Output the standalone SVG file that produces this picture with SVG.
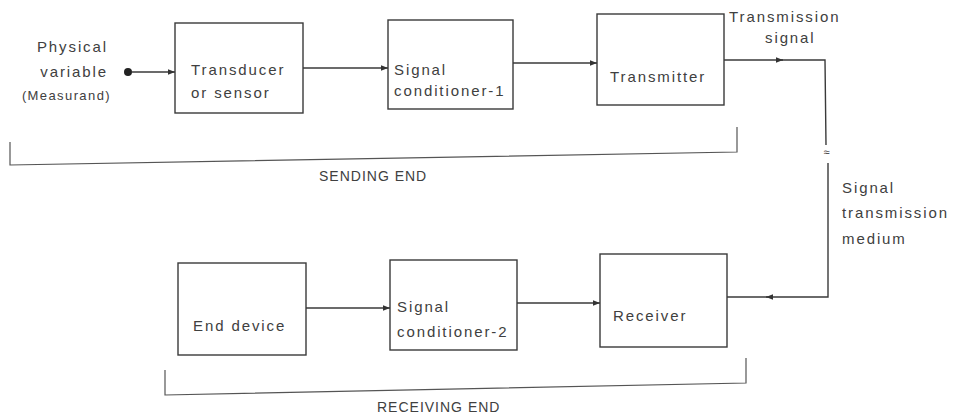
<svg xmlns="http://www.w3.org/2000/svg" width="958" height="416" viewBox="0 0 958 416">
<defs>
<style>
.box{fill:#fff;stroke:#3a3a3a;stroke-width:1.4}
.ln{fill:none;stroke:#3a3a3a;stroke-width:1.4}
.br{fill:none;stroke:#555;stroke-width:1.2}
text{font-family:"Liberation Sans",Arial,sans-serif;fill:#404040;font-size:15px;letter-spacing:1.9px}
.sm{font-size:13px;letter-spacing:1.4px}
.cap{font-size:14px;letter-spacing:1px}
</style>
<marker id="ah" viewBox="0 0 10 10" refX="10" refY="5" markerWidth="7" markerHeight="7" orient="auto" markerUnits="userSpaceOnUse">
<path d="M0,1 L10,5 L0,9 Z" fill="#333"/>
</marker>
</defs>
<rect width="958" height="416" fill="#fff"/>

<g id="input">
<circle cx="128" cy="72" r="4" fill="#222"/>
<text x="108" y="52" text-anchor="end">Physical</text>
<text x="108" y="77" text-anchor="end">variable</text>
<text class="sm" x="111" y="100" text-anchor="end">(Measurand)</text>
</g>

<g id="transducer">
<rect class="box" x="175" y="23" width="128" height="90"/>
<text x="191" y="75">Transducer</text>
<text x="191" y="98">or sensor</text>
</g>

<g id="conditioner1">
<rect class="box" x="388" y="20" width="125" height="89"/>
<text x="394" y="75">Signal</text>
<text x="394" y="96">conditioner-1</text>
</g>

<g id="transmitter">
<rect class="box" x="597" y="14" width="127" height="91"/>
<text x="610" y="82">Transmitter</text>
</g>

<g id="end-device">
<rect class="box" x="178" y="263" width="128" height="92"/>
<text x="193" y="331">End device</text>
</g>

<g id="conditioner2">
<rect class="box" x="390" y="260" width="127" height="90"/>
<text x="397" y="312">Signal</text>
<text x="397" y="337">conditioner-2</text>
</g>

<g id="receiver">
<rect class="box" x="600" y="254" width="127" height="93"/>
<text x="613" y="321">Receiver</text>
</g>

<g id="labels">
<text x="729" y="22">Transmission</text>
<text x="765" y="43">signal</text>
<text x="842" y="193">Signal</text>
<text x="842" y="218">transmission</text>
<text x="842" y="244">medium</text>
<text class="cap" x="319" y="181">SENDING END</text>
<text class="cap" x="377" y="412">RECEIVING END</text>
<text x="823.5" y="156" style="font-size:11px;letter-spacing:0">≈</text>
</g>

<g id="connectors">
<line class="ln" x1="132" y1="72" x2="175" y2="72" marker-end="url(#ah)"/>
<line class="ln" x1="303" y1="68" x2="388" y2="68" marker-end="url(#ah)"/>
<line class="ln" x1="513" y1="63" x2="597" y2="63" marker-end="url(#ah)"/>
<line class="ln" x1="724" y1="60" x2="783" y2="60" marker-end="url(#ah)"/>
<polyline class="ln" points="781,60 825,60 826,145"/>
<polyline class="ln" points="828,163 828,297 770,297"/>
<line class="ln" x1="772" y1="297" x2="766" y2="297" marker-end="url(#ah)"/>
<line class="ln" x1="768" y1="297" x2="727" y2="297"/>
<line class="ln" x1="306" y1="308" x2="390" y2="308" marker-end="url(#ah)"/>
<line class="ln" x1="517" y1="303" x2="600" y2="303" marker-end="url(#ah)"/>
</g>

<g id="brackets">
<polyline class="br" points="10,142 10,165 737,152 737,127"/>
<polyline class="br" points="165,370 165,395 746,383 746,358"/>
</g>
</svg>
